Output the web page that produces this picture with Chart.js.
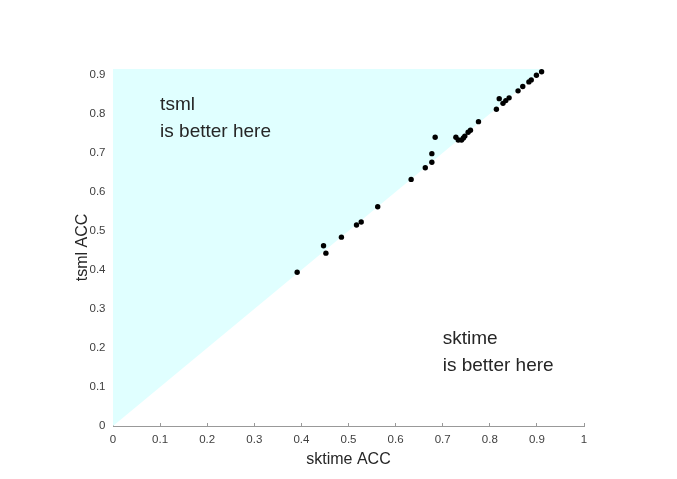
<!DOCTYPE html>
<html>
<head>
<meta charset="utf-8">
<script src="https://cdn.jsdelivr.net/npm/chart.js@4/dist/chart.umd.min.js"></script>
<style>
html,body{margin:0;padding:0;background:#fff;}
canvas{display:block;}
</style>
</head>
<body>
<canvas id="c" width="677" height="479"></canvas>
<script>
// ---- data ----
const sktimeAcc = [0.391,0.447,0.452,0.485,0.517,0.527,0.562,0.633,0.663,0.677,0.677,0.684,0.728,0.733,0.740,0.744,0.747,0.754,0.759,0.776,0.814,0.820,0.828,0.834,0.841,0.860,0.870,0.883,0.888,0.899,0.910];
const tsmlAcc   = [0.394,0.462,0.443,0.484,0.515,0.523,0.562,0.632,0.662,0.676,0.698,0.740,0.740,0.733,0.733,0.738,0.743,0.753,0.758,0.780,0.812,0.839,0.827,0.834,0.841,0.859,0.870,0.882,0.887,0.899,0.908];
const diagX = [0, 0.915];
const diagY = [0, 0.915];
const xTicks = [0,0.1,0.2,0.3,0.4,0.5,0.6,0.7,0.8,0.9,1];
const yTicks = [0,0.1,0.2,0.3,0.4,0.5,0.6,0.7,0.8,0.9];
const xMin = 0, xMax = 1, yMin = 0, yMax = 0.915;
const xTitle = 'sktime ACC';
const yTitle = 'tsml ACC';
const noteLines = [['tsml','is better here'],['sktime','is better here']];
const noteX = [0.1, 0.7];
const noteY = [0.8, 0.2];

Chart.defaults.font.family = '"Liberation Sans", Arial, Helvetica, sans-serif';

const fmt = v => String(Number(Number(v).toFixed(2)));

const notesPlugin = {
  id: 'notes',
  afterDatasetsDraw(chart) {
    const ctx = chart.ctx;
    const xs = chart.scales.x, ys = chart.scales.y;
    ctx.save();
    ctx.font = '19px "Liberation Sans", Arial, sans-serif';
    ctx.fillStyle = '#262626';
    ctx.textAlign = 'left';
    ctx.textBaseline = 'middle';
    const lh = 27;
    noteLines.forEach((lines, i) => {
      const px = xs.getPixelForValue(noteX[i]);
      const py = ys.getPixelForValue(noteY[i]) + 4;
      const start = py - (lines.length - 1) * lh / 2;
      lines.forEach((t, j) => ctx.fillText(t, px, start + j * lh));
    });
    ctx.restore();
  }
};

new Chart(document.getElementById('c'), {
  type: 'scatter',
  data: {
    datasets: [
      {
        type: 'scatter',
        data: sktimeAcc.map((v, i) => ({x: v, y: tsmlAcc[i]})),
        backgroundColor: '#000',
        borderColor: '#000',
        borderWidth: 0,
        pointRadius: 2.7,
        order: 1
      },
      {
        type: 'line',
        data: diagX.map((v, i) => ({x: v, y: diagY[i]})),
        fill: 'end',
        backgroundColor: '#e0ffff',
        borderWidth: 0,
        borderColor: 'rgba(0,0,0,0)',
        pointRadius: 0,
        tension: 0,
        order: 2
      }
    ]
  },
  options: {
    responsive: false,
    animation: false,
    devicePixelRatio: 1,
    layout: {padding: {top: 69, right: 93, left: 0, bottom: 0}},
    plugins: {legend: {display: false}, tooltip: {enabled: false}},
    scales: {
      x: {
        type: 'linear', min: xMin, max: xMax,
        afterFit(s) { s.height = 53; },
        afterBuildTicks(s) { s.ticks = xTicks.map(v => ({value: v})); },
        border: {color: '#999', width: 1},
        grid: {drawOnChartArea: false, drawTicks: true, tickLength: -3, color: '#999'},
        ticks: {color: '#404040', font: {size: 11.5}, padding: 9.6, maxRotation: 0, autoSkip: false, callback: fmt},
        title: {display: true, text: xTitle, color: '#262626', font: {size: 16}, padding: {top: 0, bottom: 10}}
      },
      y: {
        type: 'linear', min: yMin, max: yMax,
        afterFit(s) { s.width = 113; },
        afterBuildTicks(s) { s.ticks = yTicks.map(v => ({value: v})); },
        border: {color: '#999', width: 1},
        grid: {drawOnChartArea: false, drawTicks: true, tickLength: -3, color: '#999'},
        ticks: {color: '#404040', font: {size: 11.5}, padding: 10.5, autoSkip: false, callback: fmt},
        title: {display: true, text: yTitle, color: '#262626', font: {size: 16}, padding: {top: 73, bottom: 0}}
      }
    }
  },
  plugins: [notesPlugin]
});
</script>
</body>
</html>
